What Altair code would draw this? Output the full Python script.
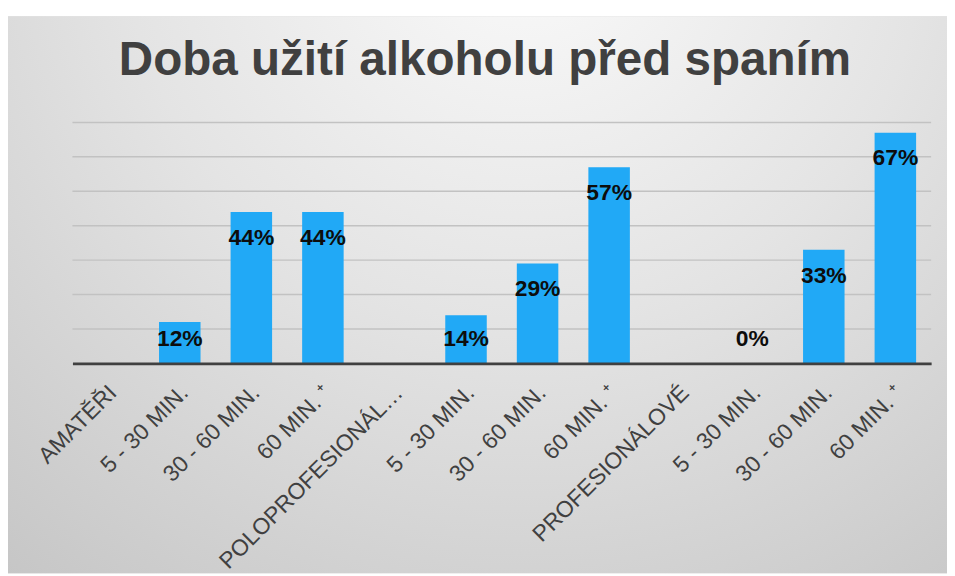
import json
import altair as alt
import pandas as pd

# ---- data ----
categories = ["AMATĚŘI", "5 - 30 MIN.", "30 - 60 MIN.", "60 MIN. ⁺",
              "POLOPROFESIONÁL…", "5 - 30 MIN.", "30 - 60 MIN.", "60 MIN. ⁺",
              "PROFESIONÁLOVÉ", "5 - 30 MIN.", "30 - 60 MIN.", "60 MIN. ⁺"]
values = [None, 12, 44, 44, None, 14, 29, 57, None, 0, 33, 67]
grid_values = [10, 20, 30, 40, 50, 60, 70]
title_text = "Doba užití alkoholu před spaním"

df = pd.DataFrame({"idx": list(range(len(categories))), "value": values})
gdf = pd.DataFrame({"g": grid_values})

W, H = 866, 243
PAD = {"left": 65, "top": 113, "right": 16, "bottom": 212}

label_expr = json.dumps(categories, ensure_ascii=False) + "[datum.value]"

x_enc = alt.X("idx:O", title=None,
              scale=alt.Scale(domain=list(range(len(categories))),
                              paddingInner=0.42, paddingOuter=0.21),
              axis=alt.Axis(labelExpr=label_expr, labelAngle=-45,
                            labelFont="Liberation Sans", labelFontSize=23,
                            labelColor="#404040", labelPadding=18,
                            labelOffset=-3,
                            ticks=False, domain=True, domainColor="#404040",
                            domainWidth=3, grid=False, labelOverlap=False,
                            labelLimit=400, zindex=2))
y_scale = alt.Scale(domain=[0, 70])

bg_gradient = alt.RadialGradient(
    gradient="radial",
    x1=0.55, y1=0.1, r1=0.0,
    x2=0.55, y2=0.1, r2=0.95,
    stops=[alt.GradientStop(color="#fbfbfb", offset=0.0),
           alt.GradientStop(color="#e4e4e4", offset=0.45),
           alt.GradientStop(color="#c2c2c2", offset=1.0)],
)

background = alt.Chart(pd.DataFrame({"k": [0]})).mark_rect(
    fill=bg_gradient, clip=False
).encode(
    x=alt.value(-PAD["left"]), x2=alt.value(W + PAD["right"]),
    y=alt.value(-PAD["top"] + 6), y2=alt.value(H + PAD["bottom"]),
)

grid = alt.Chart(gdf).mark_rule(color="#c2c2c2", strokeWidth=1.5).encode(
    y=alt.Y("g:Q", scale=y_scale, title=None, axis=None),
)

bars = alt.Chart(df).transform_filter("isValid(datum.value)").mark_bar(
    color="#21a9f6"
).encode(
    x=x_enc,
    y=alt.Y("value:Q", scale=y_scale, axis=None),
)

texts = alt.Chart(df).transform_filter("isValid(datum.value)").transform_calculate(
    pos="max(datum.value, 14.5)",
    lab="format(datum.value, 'd') + '%'",
).mark_text(
    font="Liberation Sans", fontWeight="bold", fontSize=23, color="#0d0d0d",
    baseline="middle", dy=26
).encode(
    x=x_enc,
    y=alt.Y("pos:Q", scale=y_scale, axis=None),
    text="lab:N",
)

chart = alt.layer(background, grid, bars, texts).properties(
    width=W, height=H,
    padding=PAD,
    autosize=alt.AutoSizeParams(type="none"),
    title=alt.TitleParams(title_text, font="Liberation Sans", fontSize=48,
                          fontWeight="bold", color="#404040", anchor="middle",
                          frame="group", baseline="alphabetic", offset=-107, dx=-17),
).configure_view(stroke=None).configure(background="#ffffff")

chart.save("out.html", embed_options={"renderer": "svg", "actions": False})
